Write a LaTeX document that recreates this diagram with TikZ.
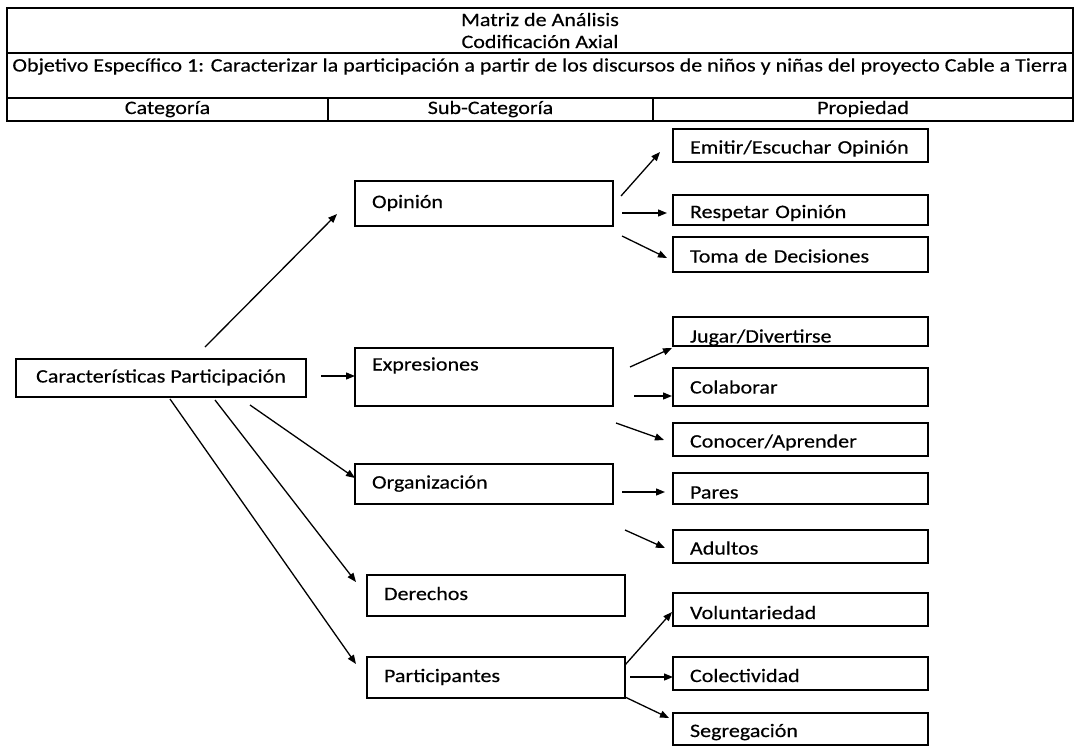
\documentclass[tikz,border=0pt]{standalone}
\usepackage{fontspec}
\setmainfont{Carlito}[FakeStretch=1.16,FakeBold=0.3]
\usetikzlibrary{arrows.meta,calc}
\begin{document}
\begin{tikzpicture}[x=1pt,y=-1pt,
  every node/.style={font=\fontsize{19}{22}\selectfont},
  box/.style={draw, line width=1.4pt, anchor=north west, inner xsep=17pt, inner ysep=0pt, outer sep=0pt, align=left, text height=13pt, text depth=4pt},
  probox/.style={box, text width=221pt, text height=20pt},
  cell/.style={draw, line width=1.4pt, anchor=north west, inner sep=0pt, outer sep=0pt, align=center},
  arr/.style={line width=1.3pt, -{Triangle[length=9pt,width=7pt]}}
]
\useasboundingbox (0,0) rectangle (1078,747);

% table header
\node[cell, minimum width=1066pt, minimum height=45pt] (tit) at (7,8) {Matriz de Análisis\\Codificación Axial};
\node[cell, minimum width=1066pt, minimum height=45pt, text height=13pt, text depth=21pt] (obj) at (7,53) {Objetivo Específico 1: Caracterizar la participación a partir de los discursos de niños y niñas del proyecto Cable a Tierra};
\node[cell, minimum width=321pt, minimum height=23pt, text height=13pt, text depth=4pt] (cat) at (7,98) {Categoría};
\node[cell, minimum width=325pt, minimum height=23pt, text height=13pt, text depth=4pt] (sub) at (328,98) {Sub-Categoría};
\node[cell, minimum width=420pt, minimum height=23pt, text height=13pt, text depth=4pt] (pro) at (653,98) {Propiedad};

% category
\node[box, minimum width=290pt, minimum height=38pt, inner xsep=0pt, align=center] (car) at (16,359) {Características Participación};

% sub-categories
\node[box, text width=224pt, minimum height=45pt] (op) at (355,181) {Opinión};
\node[box, text width=224pt, minimum height=58pt, text depth=26pt] (ex) at (355,348) {Expresiones};
\node[box, text width=224pt, minimum height=40pt] (org) at (355,464) {Organización};
\node[box, text width=224pt, minimum height=41pt] (der) at (367,575) {Derechos};
\node[box, text width=224pt, minimum height=41pt] (par) at (367,657) {Participantes};

% properties
\node[probox, minimum height=33pt] (emi) at (673,129) {Emitir/Escuchar Opinión};
\node[probox, minimum height=30pt] (res) at (673,195) {Respetar Opinión};
\node[probox, minimum height=35pt] (tom) at (673,237) {Toma de Decisiones};
\node[probox, minimum height=29pt, text height=23pt, text depth=1pt] (jug) at (673,317) {Jugar/Divertirse};
\node[probox, minimum height=38pt, text height=17pt] (col) at (673,368) {Colaborar};
\node[probox, minimum height=33pt] (con) at (673,423) {Conocer/Aprender};
\node[probox, minimum height=31pt, text height=24pt] (pares) at (673,473) {Pares};
\node[probox, minimum height=33pt] (adu) at (673,530) {Adultos};
\node[probox, minimum height=33pt, text height=23pt] (vol) at (673,593) {Voluntariedad};
\node[probox, minimum height=33pt, text height=21pt] (cole) at (673,657) {Colectividad};
\node[probox, minimum height=32pt] (seg) at (673,713) {Segregación};

% arrows from category
\draw[arr] ($(car.north west)+(189,-12)$) -- ($(op.north west)+(-18,33)$);
\draw[arr] ($(car.north east)+(15,17)$) -- ($(ex.north west)+(0,28)$);
\draw[arr] ($(car.south west)+(234,8)$) -- ($(org.north west)+(0,14)$);
\draw[arr] ($(car.south west)+(199,3)$) -- ($(der.north west)+(-11,7)$);
\draw[arr] ($(car.south west)+(154,2)$) -- ($(par.north west)+(-11,7)$);

% arrows from Opinión
\draw[arr] ($(op.north east)+(8,15)$) -- ($(emi.south west)+(-13,-10)$);
\draw[arr] ($(op.north east)+(9,32)$) -- ($(res.north west)+(-6,18)$);
\draw[arr] ($(op.north east)+(9,55)$) -- ($(tom.north west)+(-6,21)$);

% arrows from Expresiones
\draw[arr] ($(ex.north east)+(17,19)$) -- ($(jug.south west)+(-1,2)$);
\draw[arr] ($(ex.north east)+(21,48)$) -- ($(col.north west)+(-1,28)$);
\draw[arr] ($(ex.north east)+(3,75)$) -- ($(con.north west)+(-9,17)$);

% arrows from Organización
\draw[arr] ($(org.north east)+(9,28)$) -- ($(pares.north west)+(-8,19)$);
\draw[arr] ($(org.north east)+(12,66)$) -- ($(adu.north west)+(-8,18)$);

% arrows from Participantes
\draw[arr] ($(par.north east)+(0,8)$) -- ($(vol.north west)+(-1,19)$);
\draw[arr] ($(par.north east)+(5,20)$) -- ($(cole.north west)+(0,20)$);
\draw[arr] ($(par.north east)+(0,40)$) -- ($(seg.north west)+(-4,5)$);
\end{tikzpicture}
\end{document}
